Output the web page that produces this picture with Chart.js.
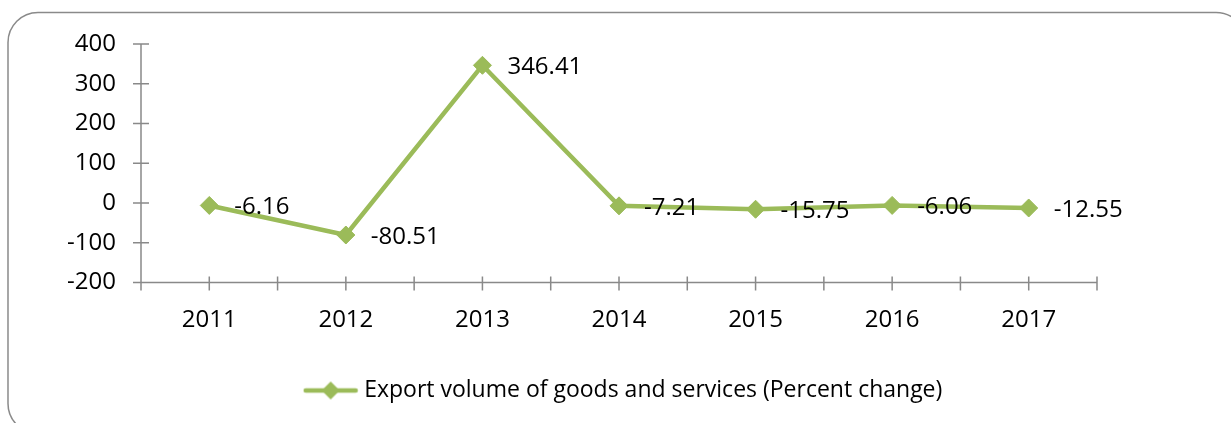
<!DOCTYPE html>
<html>
<head>
<meta charset="utf-8">
<script src="https://cdn.jsdelivr.net/npm/chart.js@4.4.1/dist/chart.umd.min.js"></script>
<style>
  html, body { margin: 0; padding: 0; background: #ffffff; }
  #wrap { position: relative; width: 1231px; height: 423px; }
</style>
</head>
<body>
<div id="wrap"><canvas id="chart" width="1231" height="423"></canvas></div>
<script>
const years = ['2011', '2012', '2013', '2014', '2015', '2016', '2017'];
const exportVolume = [-6.16, -80.51, 346.41, -7.21, -15.75, -6.06, -12.55];
const seriesName = 'Export volume of goods and services (Percent change)';
const yTicks = [-200, -100, 0, 100, 200, 300, 400];

const GREEN = '#9BBB59';
const AXIS = '#898989';
const FONT = "'Open Sans', 'DejaVu Sans', sans-serif";
const FONT_SIZE = 24;
const LEGEND_FONT_SIZE = 23;

// Legend symbol: short line with a diamond in the middle
const legendIcon = document.createElement('canvas');
legendIcon.width = 56;
legendIcon.height = 24;
(function () {
  const g = legendIcon.getContext('2d');
  g.strokeStyle = GREEN;
  g.fillStyle = GREEN;
  g.lineWidth = 4.5;
  g.lineCap = 'round';
  g.beginPath();
  g.moveTo(3, 12);
  g.lineTo(53, 12);
  g.stroke();
  g.beginPath();
  g.moveTo(28 - 9, 12);
  g.lineTo(28, 3);
  g.lineTo(28 + 9, 12);
  g.lineTo(28, 21);
  g.closePath();
  g.fill();
})();

// Rounded outer frame
const framePlugin = {
  id: 'frame',
  beforeDraw(chart) {
    const ctx = chart.ctx;
    ctx.save();
    ctx.fillStyle = '#ffffff';
    ctx.fillRect(0, 0, chart.width, chart.height);
    ctx.strokeStyle = '#8a8a8a';
    ctx.lineWidth = 1.5;
    ctx.beginPath();
    ctx.roundRect(8, 12.5, 1238, 421, 30);
    ctx.stroke();
    ctx.restore();
  }
};

// Axis lines with cross tick marks
const axesPlugin = {
  id: 'crossAxes',
  beforeDatasetsDraw(chart) {
    const ctx = chart.ctx;
    const xs = chart.scales.x;
    const ys = chart.scales.y;
    const x0 = xs.left;
    const yBottom = ys.getPixelForValue(yTicks[0]);
    const yTop = ys.getPixelForValue(yTicks[yTicks.length - 1]);
    ctx.save();
    ctx.strokeStyle = AXIS;
    ctx.lineWidth = 1.5;
    ctx.beginPath();
    ctx.moveTo(x0, yTop);
    ctx.lineTo(x0, yBottom);
    ctx.moveTo(x0, yBottom);
    ctx.lineTo(xs.right, yBottom);
    yTicks.forEach(v => {
      const py = ys.getPixelForValue(v);
      ctx.moveTo(x0 - 8, py);
      ctx.lineTo(x0 + 8, py);
    });
    const step = xs.getPixelForValue(1) - xs.getPixelForValue(0);
    for (let i = 0; i <= years.length * 2; i++) {
      const px = xs.getPixelForValue(0) - step / 2 + i * step / 2;
      ctx.moveTo(px, yBottom - 6);
      ctx.lineTo(px, yBottom + 8);
    }
    ctx.stroke();
    ctx.restore();
  }
};

// Value labels to the right of each marker
const valueLabelPlugin = {
  id: 'valueLabels',
  afterDatasetsDraw(chart) {
    const ctx = chart.ctx;
    const meta = chart.getDatasetMeta(0);
    ctx.save();
    ctx.font = FONT_SIZE + 'px ' + FONT;
    ctx.fillStyle = '#000000';
    ctx.textAlign = 'left';
    ctx.textBaseline = 'middle';
    meta.data.forEach((pt, i) => {
      ctx.fillText(exportVolume[i].toFixed(2), pt.x + 25, pt.y + 2);
    });
    ctx.restore();
  }
};

new Chart(document.getElementById('chart'), {
  type: 'line',
  data: {
    labels: years,
    datasets: [{
      label: seriesName,
      data: exportVolume,
      borderColor: GREEN,
      backgroundColor: GREEN,
      borderWidth: 4.5,
      pointStyle: 'rectRot',
      pointRadius: 9,
      pointHoverRadius: 9,
      pointBorderWidth: 1,
      pointBackgroundColor: GREEN,
      pointBorderColor: GREEN,
      tension: 0,
      fill: false
    }]
  },
  options: {
    responsive: false,
    animation: false,
    events: [],
    layout: { padding: { left: 20, right: 0, top: 44, bottom: 11 } },
    scales: {
      x: {
        type: 'category',
        offset: true,
        grid: { display: false, drawTicks: false },
        border: { display: false },
        ticks: {
          color: '#000000',
          padding: 23,
          maxRotation: 0,
          font: { family: FONT, size: FONT_SIZE }
        },
        afterFit(s) { s.height = 86.5; }
      },
      y: {
        type: 'linear',
        position: 'left',
        min: -200,
        max: 400,
        grid: { display: false, drawTicks: false },
        border: { display: false },
        ticks: {
          stepSize: 100,
          color: '#000000',
          padding: 25,
          font: { family: FONT, size: FONT_SIZE }
        },
        afterFit(s) { s.width = 121; }
      },
      yRight: {
        type: 'linear',
        position: 'right',
        display: true,
        grid: { display: false, drawTicks: false },
        border: { display: false },
        ticks: { display: false },
        afterFit(s) { s.width = 134; }
      }
    },
    plugins: {
      tooltip: { enabled: false },
      legend: {
        display: true,
        position: 'bottom',
        labels: {
          usePointStyle: true,
          pointStyleWidth: 44,
          padding: 10,
          color: '#000000',
          font: { family: FONT, size: LEGEND_FONT_SIZE },
          generateLabels() {
            return [{
              text: seriesName,
              pointStyle: legendIcon,
              fillStyle: GREEN,
              strokeStyle: GREEN,
              lineWidth: 0,
              hidden: false,
              datasetIndex: 0,
              fontColor: '#000000'
            }];
          }
        }
      }
    }
  },
  plugins: [framePlugin, axesPlugin, valueLabelPlugin]
});
</script>
</body>
</html>
